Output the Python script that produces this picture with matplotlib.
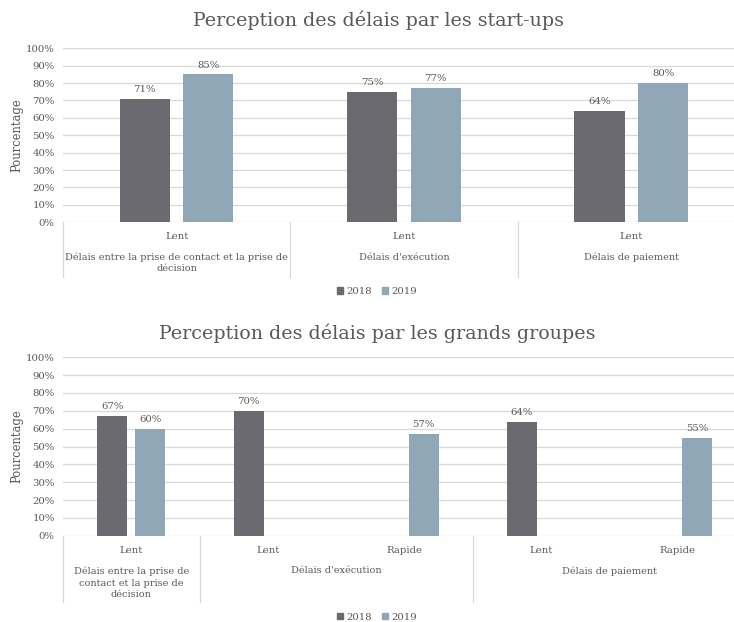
import textwrap
import matplotlib
matplotlib.use("Agg")
import matplotlib.pyplot as plt
from matplotlib.patches import Patch
from matplotlib.transforms import blended_transform_factory

# ---------------- data ----------------
series_names = ["2018", "2019"]

top_title = "Perception des délais par les start-ups"
top_groups = ["Délais entre la prise de contact et la prise de décision",
              "Délais d'exécution", "Délais de paiement"]
top_group_spans = [1, 1, 1]
top_subcats = ["Lent", "Lent", "Lent"]
top_2018 = [71, 75, 64]
top_2019 = [85, 77, 80]

bot_title = "Perception des délais par les grands groupes"
bot_groups = ["Délais entre la prise de contact et la prise de décision",
              "Délais d'exécution", "Délais de paiement"]
bot_group_spans = [1, 2, 2]
bot_subcats = ["Lent", "Lent", "Rapide", "Lent", "Rapide"]
bot_2018 = [67, 70, None, 64, None]
bot_2019 = [60, None, 57, None, 55]

y_ticks = [0, 10, 20, 30, 40, 50, 60, 70, 80, 90, 100]
y_label = "Pourcentage"

# ---------------- style ----------------
W, H = 734, 622
C2018 = "#6b6a70"
C2019 = "#8fa7b6"
TXT = "#595959"
GRID = "#d9d9d9"
FONT = "DejaVu Serif"
plt.rcParams["font.family"] = [FONT]

fig = plt.figure(figsize=(W / 100, H / 100), dpi=100)


def px_axes(left, right, top, bottom):
    return fig.add_axes([left / W, 1 - bottom / H, (right - left) / W, (bottom - top) / H])


def draw(ax, subcats, s18, s19, groups, spans, wrap, ax_h_px, div_px, lsp):
    n = len(subcats)
    x = list(range(n))
    bw, off = 0.22, 0.14
    for vals, sign, col in ((s18, -1, C2018), (s19, 1, C2019)):
        for xi, v in zip(x, vals):
            if v is None:
                continue
            ax.bar(xi + sign * off, v, width=bw, color=col, zorder=3)
            ax.annotate(f"{v}%", (xi + sign * off, v), xytext=(0, 3.5),
                        textcoords="offset points", ha="center", va="bottom",
                        fontsize=7.3, color=TXT)
    ax.set_xlim(-0.5, n - 0.5)
    ax.set_ylim(0, 100)
    ax.set_yticks(y_ticks)
    ax.set_yticklabels([f"{t}%" for t in y_ticks])
    ax.tick_params(axis="y", length=0, labelsize=7.3, labelcolor=TXT, pad=6)
    ax.set_xticks([])
    for s in ax.spines.values():
        s.set_visible(False)
    ax.yaxis.grid(True, color=GRID, lw=0.9, zorder=0)
    ax.set_axisbelow(True)
    ax.set_ylabel(y_label, fontsize=8.3, color=TXT)
    ax.yaxis.set_label_coords(-(63 - 23) / ax.bbox.width, 0.5)

    tr = blended_transform_factory(ax.transData, ax.transAxes)
    # subcategory labels
    for xi, lab in zip(x, subcats):
        ax.annotate(lab, (xi, 0), xycoords=("data", "axes fraction"),
                    xytext=(0, -14.4 * 0.72), textcoords="offset points",
                    ha="center", va="center", fontsize=7.3, color=TXT)
    # group labels and dividers
    start = 0
    bounds = [-0.5]
    for g, sp in zip(groups, spans):
        cx = start + (sp - 1) / 2
        ax.annotate(textwrap.fill(g, wrap), (cx, 0), xycoords=("data", "axes fraction"),
                    xytext=(0, -30.5 * 0.72), textcoords="offset points",
                    ha="center", va="top", fontsize=7.0, color=TXT, linespacing=lsp)
        start += sp
        bounds.append(start - 0.5)
    for b in bounds:
        ax.plot([b, b], [0, -div_px / ax_h_px], transform=tr, color=GRID, lw=0.9,
                clip_on=False)


# top chart
ax1 = px_axes(63, 745, 48.3, 222.3)
draw(ax1, top_subcats, top_2018, top_2019, top_groups, top_group_spans, 47, 174, 55, 1.25)
fig.text(378 / W, 1 - 20 / H, top_title, ha="center", va="center", fontsize=13.7, color=TXT)

# bottom chart
ax2 = px_axes(63, 746, 357.3, 535.7)
draw(ax2, bot_subcats, bot_2018, bot_2019, bot_groups, bot_group_spans, 24, 178.4, 66, 1.4)
fig.text(377 / W, 1 - 333 / H, bot_title, ha="center", va="center", fontsize=13.7, color=TXT)

handles = [Patch(color=C2018), Patch(color=C2019)]
for yc in (291.7, 617):
    fig.legend(handles, series_names, loc="center", bbox_to_anchor=(377 / W, 1 - yc / H),
               ncol=2, frameon=False, fontsize=7.3, handlelength=0.6, handleheight=0.6,
               handletextpad=0.3, columnspacing=1.0, labelcolor=TXT)

fig.savefig("out.png", dpi=100)
